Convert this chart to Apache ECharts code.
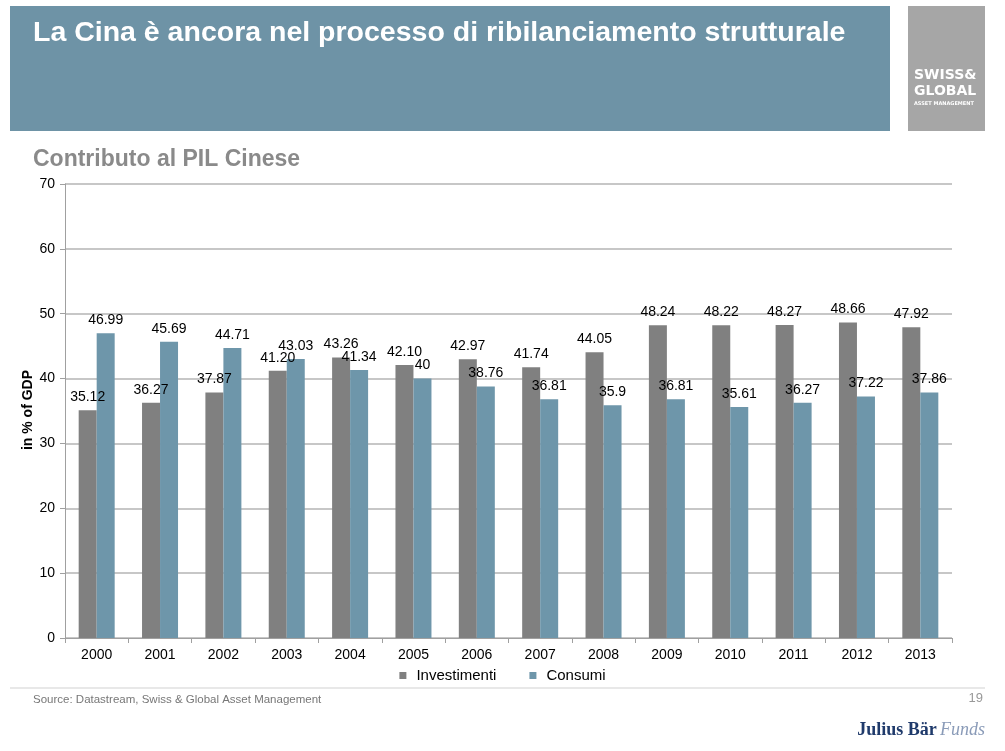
<!DOCTYPE html>
<html><head><meta charset="utf-8">
<script src="https://cdn.jsdelivr.net/npm/echarts@6/dist/echarts.min.js"></script>
<style>html,body{margin:0;padding:0;background:#fff}#c{width:1005px;height:751px}</style>
</head><body><div id="c"></div>
<script>
var years = ['2000','2001','2002','2003','2004','2005','2006','2007','2008','2009','2010','2011','2012','2013'];
var investimenti = [35.12,36.27,37.87,41.20,43.26,42.10,42.97,41.74,44.05,48.24,48.22,48.27,48.66,47.92];
var consumi = [46.99,45.69,44.71,43.03,41.34,40,38.76,36.81,35.9,36.81,35.61,36.27,37.22,37.86];
var yTicks = [0,10,20,30,40,50,60,70];
var yAxisTitle = 'in % of GDP';

var FONT = '"Liberation Sans", Arial, sans-serif';
var chart = echarts.init(document.getElementById('c'));
chart.setOption({
  animation: false,
  textStyle: {fontFamily: FONT},
  grid: {left: 65, right: 53, top: 184, bottom: 113},
  legend: {
    data: ['Investimenti','Consumi'],
    left: 'center', top: 663, itemWidth: 7, itemHeight: 7, itemGap: 33,
    icon: 'rect',
    textStyle: {fontSize: 15, color: '#000', fontFamily: FONT, padding: [0, 0, 0, 5]}
  },
  xAxis: {
    type: 'category', data: years,
    axisLine: {lineStyle: {color: '#a0a0a0', width: 1}},
    axisTick: {show: true, length: 5, lineStyle: {color: '#a0a0a0'}},
    axisLabel: {fontSize: 14, color: '#000', margin: 10}
  },
  yAxis: {
    type: 'value', min: 0, max: 70, interval: 10,
    axisLine: {show: true, lineStyle: {color: '#a0a0a0'}},
    axisTick: {show: true, length: 5, lineStyle: {color: '#a0a0a0'}},
    axisLabel: {fontSize: 14, color: '#000', margin: 10,
      formatter: function(v){ return yTicks.indexOf(v) >= 0 ? String(v) : ''; }},
    splitLine: {lineStyle: {color: '#b4b4b4', width: 1.5}}
  },
  series: [
    {name: 'Investimenti', type: 'bar', data: investimenti, barWidth: 18, barGap: '0%',
     itemStyle: {color: '#808080'},
     label: {show: true, position: 'top', distance: 6, fontSize: 14, color: '#000',
       formatter: function(p){ return p.value.toFixed(2); }}},
    {name: 'Consumi', type: 'bar', data: consumi, barWidth: 18,
     itemStyle: {color: '#6e96aa'},
     label: {show: true, position: 'top', distance: 6, fontSize: 14, color: '#000',
       formatter: function(p){ return String(p.value); }}}
  ],
  graphic: [
    {type: 'rect', shape: {x: 10, y: 6, width: 880, height: 125}, style: {fill: '#6e93a6'}},
    {type: 'text', left: 33, top: 19, style: {text: 'La Cina è ancora nel processo di ribilanciamento strutturale', fill: '#fff', font: 'bold 28.5px ' + FONT}},
    {type: 'rect', shape: {x: 908, y: 6, width: 77, height: 125}, style: {fill: '#a6a6a6'}},
    {type: 'text', left: 914, top: 68, style: {text: 'SWISS&', fill: '#fff', font: 'bold 14px "DejaVu Sans", sans-serif'}},
    {type: 'text', left: 914, top: 84, style: {text: 'GLOBAL', fill: '#fff', font: 'bold 14px "DejaVu Sans", sans-serif'}},
    {type: 'text', left: 914, top: 101, style: {text: 'ASSET MANAGEMENT', fill: '#fff', font: 'bold 5px "DejaVu Sans", sans-serif'}},
    {type: 'text', left: 33, top: 148, style: {text: 'Contributo al PIL Cinese', fill: '#8a8a8a', font: 'bold 23px ' + FONT}},
    {type: 'text', x: 28, y: 410, rotation: Math.PI / 2, style: {text: yAxisTitle, fill: '#000', font: 'bold 14px ' + FONT, align: 'center', verticalAlign: 'middle'}},
    {type: 'line', shape: {x1: 10, y1: 688, x2: 985, y2: 688}, style: {stroke: '#e0e0e0', lineWidth: 1.5}},
    {type: 'text', left: 33, top: 694, style: {text: 'Source: Datastream, Swiss & Global Asset Management', fill: '#777', font: '11.5px ' + FONT}},
    {type: 'text', right: 22, top: 692, style: {text: '19', fill: '#999', font: '13px ' + FONT}},
    {type: 'text', right: 20, top: 721, style: {
      rich: {a: {fill: '#1f3a6b', font: 'bold 18px "Liberation Serif", serif'}, b: {fill: '#8a9bb8', font: 'italic 18px "Liberation Serif", serif'}},
      text: '{a|Julius Bär} {b|Funds}'}}
  ]
});
</script></body></html>
